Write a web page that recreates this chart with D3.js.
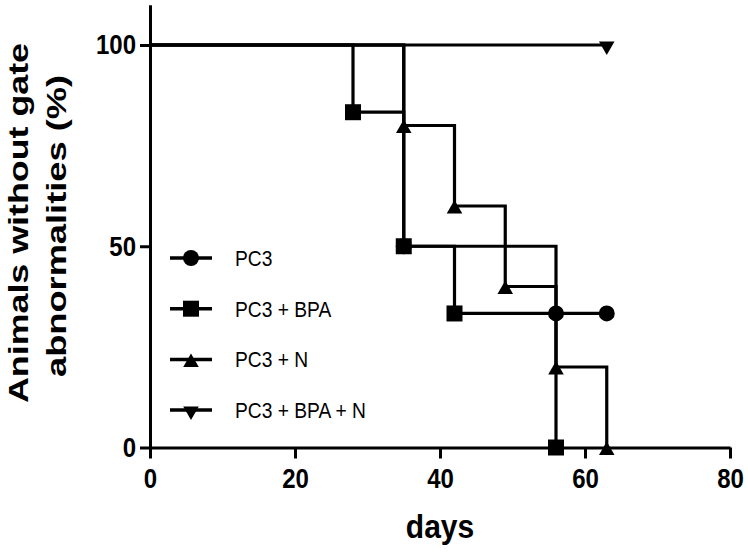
<!DOCTYPE html>
<html>
<head>
<meta charset="utf-8">
<script src="https://cdn.jsdelivr.net/npm/d3@7"></script>
<style>
  body { margin: 0; background: #fff; }
  text { font-family: "Liberation Sans", Arial, sans-serif; fill: #000; }
</style>
</head>
<body>
<div id="here"></div>
<script>
var w = 748, h = 556;

// survival data (days, % without gate abnormalities)
var groups = ["PC3", "PC3 + BPA", "PC3 + N", "PC3 + BPA + N"];
var symbols = [d3.symbolCircle, d3.symbolSquare, d3.symbolTriangle, d3.symbolTriangle];
var pc3Days = [0, 35, 56, 63],          pc3Vals = [100, 50, 33.3, 33.3];
var bpaDays = [0, 28, 35, 42, 56],      bpaVals = [100, 83.3, 50, 33.3, 0];
var nDays = [0, 35, 42, 49, 56, 63],    nVals = [100, 80, 60, 40, 20, 0];
var bpaNDays = [0, 63],                 bpaNVals = [100, 100];

var xTicks = [0, 20, 40, 60, 80];
var yTicks = [0, 50, 100];

var allDays = [pc3Days, bpaDays, nDays, bpaNDays];
var allVals = [pc3Vals, bpaVals, nVals, bpaNVals];

var data = groups.map(function(g, i) {
  return {
    name: g, symbol: symbols[i], flip: i == 3,
    points: allDays[i].map(function(d, j) { return {day: d, val: allVals[i][j]}; })
  };
});

var x = d3.scaleLinear().domain([0, 80]).range([150, 730]);
var y = d3.scaleLinear().domain([0, 110]).range([447.5, 4.75]);

var svg = d3.select("#here").append("svg")
  .attr("width", w)
  .attr("height", h);

// squeeze text horizontally: measure at one size, draw at a bigger one
function tall(sel, baseSize, bigSize, factor) {
  sel.each(function() {
    var t = d3.select(this).style("font-size", baseSize + "px");
    var len = this.getComputedTextLength() * (factor || 1);
    t.style("font-size", bigSize + "px")
      .attr("textLength", len)
      .attr("lengthAdjust", "spacingAndGlyphs");
  });
}

// axes
var xAxis = svg.append("g")
  .attr("transform", "translate(0," + y(0) + ")")
  .call(d3.axisBottom(x).tickValues(xTicks).tickSize(11).tickSizeOuter(0).tickPadding(8));

var yAxis = svg.append("g")
  .attr("transform", "translate(" + x(0) + ",0)")
  .call(d3.axisLeft(y).tickValues(yTicks).tickSize(10).tickSizeOuter(0).tickPadding(4));

[xAxis, yAxis].forEach(function(a) {
  a.selectAll("path, line").attr("stroke", "#000").attr("stroke-width", 3);
  a.selectAll("text")
    .style("font-weight", "bold")
    .attr("fill", "#000")
    .call(tall, 24, 27.5, 1);
});
xAxis.selectAll("text").attr("dy", "0.78em");

// step lines
var line = d3.line()
  .x(function(d) { return x(d.day); })
  .y(function(d) { return y(d.val); })
  .curve(d3.curveStepAfter);

svg.selectAll(".curve")
  .data(data)
  .enter().append("path")
  .attr("class", "curve")
  .attr("d", function(d) { return line(d.points); })
  .attr("fill", "none")
  .attr("stroke", "#000")
  .attr("stroke-width", 3.2);

function symPath(d) {
  var size = d.symbol === d3.symbolCircle ? 200 : d.symbol === d3.symbolSquare ? 256 : 105;
  return d3.symbol().type(d.symbol).size(size)();
}
function symShift(d) {
  if (d.symbol !== d3.symbolTriangle) return "";
  return d.flip ? " translate(0,1) rotate(180)" : " translate(0,3)";
}

// markers at each step
data.forEach(function(s) {
  svg.append("g").selectAll("path")
    .data(s.points.slice(1))
    .enter().append("path")
    .attr("d", symPath(s))
    .attr("transform", function(p) {
      return "translate(" + x(p.day) + "," + y(p.val) + ")" + symShift(s);
    })
    .attr("fill", "#000");
});

// legend
var leg = svg.append("g").selectAll("g")
  .data(data)
  .enter().append("g")
  .attr("transform", function(d, i) { return "translate(191," + (258 + i * 50.7) + ")"; });

leg.append("line")
  .attr("x1", -21).attr("x2", 21)
  .attr("stroke", "#000").attr("stroke-width", 3.5);

leg.append("path")
  .attr("d", symPath)
  .attr("transform", function(d) { return symShift(d).trim(); })
  .attr("fill", "#000");

leg.append("text")
  .attr("x", 44)
  .attr("y", 8)
  .text(function(d) { return d.name; })
  .call(tall, 20, 22, 0.96);

// axis titles
svg.append("text")
  .attr("x", x(40))
  .attr("y", 538)
  .attr("text-anchor", "middle")
  .style("font-weight", "bold")
  .text("days")
  .call(tall, 30, 34, 1);

var yLabel = ["Animals without gate", "abnormalities (%)"];
var yLen = [360, 302];
svg.append("g").selectAll("text")
  .data(yLabel)
  .enter().append("text")
  .attr("transform", function(d, i) { return "translate(" + (28 + i * 38) + "," + (223 + i * 3) + ") rotate(-90)"; })
  .attr("text-anchor", "middle")
  .attr("textLength", function(d, i) { return yLen[i]; })
  .attr("lengthAdjust", "spacingAndGlyphs")
  .style("font-size", "28px")
  .style("font-weight", "bold")
  .text(function(d) { return d; });
</script>
</body>
</html>
